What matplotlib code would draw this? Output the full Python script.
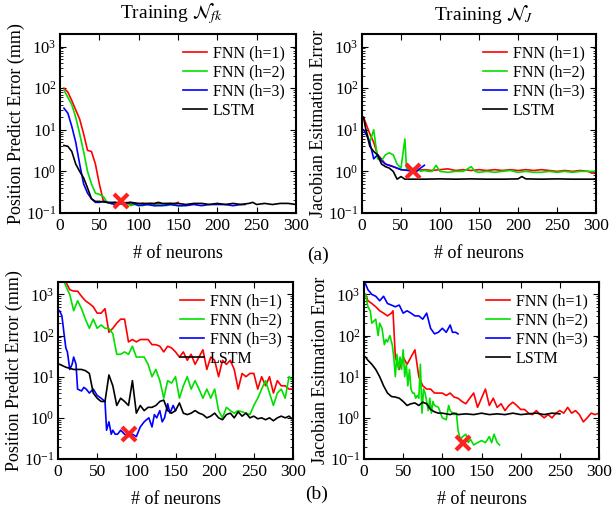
import matplotlib.pyplot as plt
import numpy as np

plt.rcParams['font.family'] = ['Liberation Serif', 'DejaVu Serif']
plt.rcParams['mathtext.fontset'] = 'stix'

labels = ['FNN (h=1)', 'FNN (h=2)', 'FNN (h=3)', 'LSTM']
colors = ['#ff0000', '#00e000', '#0000ff', '#000000']

# (a) left: position error, training N_fk
a1_x1 = [5, 10, 15, 20, 25, 30, 35, 40, 45, 50, 55, 60, 65, 70, 75, 80, 85, 90, 95, 100,
         105, 110, 115, 120, 125, 130, 135, 140, 145, 150]
a1_y1 = [100, 80, 50, 30, 18, 8, 3.2, 3.0, 1.5, 0.5, 0.2, 0.18, 0.17, 0.18, 0.17, 0.17, 0.18, 0.16, 0.17, 0.16,
         0.17, 0.16, 0.17, 0.16, 0.17, 0.16, 0.16, 0.17, 0.16, 0.18]
a1_x2 = [5, 10, 15, 20, 25, 30, 35, 40, 45, 50, 55, 60, 65, 70, 75, 80, 85, 90, 95, 100,
         105, 110, 115, 120, 125, 130, 135, 140, 145, 150, 155]
a1_y2 = [90, 60, 40, 20, 8, 3, 1.0, 0.5, 0.3, 0.28, 0.25, 0.18, 0.17, 0.16, 0.17, 0.16, 0.17, 0.15, 0.16, 0.16,
         0.15, 0.16, 0.17, 0.15, 0.16, 0.16, 0.15, 0.16, 0.16, 0.15, 0.15]
a1_x3 = [5, 10, 15, 20, 25, 30, 35, 40, 45, 50, 55, 60, 70, 80, 90, 100, 110, 120, 130, 140,
         150, 160, 170, 180, 190, 200, 210, 220, 230, 235]
a1_y3 = [33, 25, 12, 5, 1.5, 0.5, 0.3, 0.22, 0.18, 0.18, 0.19, 0.18, 0.16, 0.17, 0.18, 0.15, 0.16, 0.15, 0.15, 0.16,
         0.15, 0.15, 0.16, 0.15, 0.16, 0.16, 0.16, 0.15, 0.16, 0.16]
a1_x4 = [5, 10, 15, 20, 25, 30, 35, 40, 45, 50, 60, 70, 80, 90, 100, 110, 120, 125, 130, 140,
         150, 160, 170, 180, 190, 200, 210, 220, 230, 240, 245, 250, 260, 270, 280, 290, 300]
a1_y4 = [4.2, 4.0, 3.0, 1.5, 1.0, 0.7, 0.4, 0.22, 0.19, 0.19, 0.18, 0.18, 0.17, 0.18, 0.17, 0.17, 0.17, 0.18, 0.17, 0.17,
         0.17, 0.16, 0.17, 0.17, 0.16, 0.17, 0.16, 0.17, 0.16, 0.17, 0.18, 0.16, 0.17, 0.16, 0.17, 0.17, 0.16]
a1_best = (78, 0.19)

# (a) right: jacobian error, training N_J
a2_x1 = [2, 10, 15, 20, 25, 30, 40, 50, 60, 70, 80, 90, 100, 110, 120, 130, 140, 150, 160, 170,
         180, 190, 200, 210, 220, 230, 240, 250, 260, 270, 280, 290, 295, 300]
a2_y1 = [20, 8, 5, 2.5, 2, 1.5, 1.3, 1.1, 1.05, 1.05, 1.1, 1.05, 1.1, 1.15, 1.05, 1.1, 1.05, 1.1, 1.05, 1.1,
         1.05, 1.1, 1.05, 1.1, 1.05, 1.1, 1.05, 1.0, 1.05, 1.0, 1.05, 1.0, 0.9, 1.0]
a2_x2 = [5, 10, 15, 20, 25, 30, 35, 40, 45, 50, 55, 57, 60, 65, 70, 75, 80, 85, 90, 95, 100,
         110, 120, 130, 140, 145, 150, 160, 170, 180, 190, 200, 210, 220, 230, 240, 250, 260, 270, 280, 290, 300]
a2_y2 = [10, 5, 10, 2, 1.8, 2.5, 2.8, 2.5, 1.5, 1.2, 6, 1.2, 1.1, 1.15, 1.3, 1.0, 1.05, 1.0, 1.0, 1.4, 1.0,
         0.95, 1.0, 1.0, 1.3, 1.0, 0.95, 1.0, 0.95, 1.0, 1.05, 0.95, 1.0, 0.95, 0.95, 1.0, 0.95, 1.0, 0.95, 1.0, 1.0, 1.0]
a2_x3 = [2, 5, 10, 15, 20, 25, 30, 40, 50, 60, 70, 75, 80]
a2_y3 = [10, 8, 5, 2, 2.5, 1.8, 1.5, 1.3, 1.1, 1.05, 1.0, 1.2, 1.4]
a2_x4 = [2, 5, 10, 15, 20, 25, 30, 35, 40, 45, 50, 55, 60, 80, 100, 120, 140, 160, 180, 200,
         205, 210, 230, 250, 270, 300]
a2_y4 = [20, 10, 4, 3, 2.5, 1.5, 1.3, 1.2, 1.0, 0.65, 0.75, 0.65, 0.65, 0.65, 0.66, 0.65, 0.66, 0.65, 0.65, 0.66,
         0.75, 0.66, 0.65, 0.66, 0.65, 0.65]
a2_best = (65, 1.05)

# (b) left: position error
b1_x1 = list(range(10, 301, 5))
b1_y1 = [2000, 1300, 1200, 1200, 900, 700, 600, 500, 350, 350, 450, 120, 150, 200, 250, 250, 70, 80, 70, 80,
         80, 80, 60, 60, 55, 40, 55, 50, 40, 30, 40, 25, 35, 20, 30, 45, 15, 30, 25, 10,
         25, 20, 25, 15, 5, 12, 10, 12, 12, 5, 10, 6, 10, 4, 8, 6, 6, 5, 5]
b1_x2 = [8, 12] + list(range(15, 301, 5))
b1_y2 = [2000, 1300, 1000, 400, 700, 450, 250, 150, 250, 150, 180, 150, 150, 110, 35, 35, 40, 35, 55, 30,
         30, 30, 20, 10, 15, 8, 3, 8, 7, 10, 3, 6, 10, 5, 8, 5, 3, 5, 3, 5,
         1.5, 1.0, 1.8, 1.5, 1.3, 1.5, 1.4, 1.3, 1.2, 2, 3, 5, 8, 4, 2, 4, 5, 3, 10, 8]
b1_x3 = [2, 5, 8, 10, 12, 15, 18, 20, 23, 25, 30, 33, 36, 40, 45, 50, 55, 60, 62, 65,
         68, 70, 73, 76, 80, 85, 90, 95, 100, 105, 110, 113, 116, 120, 123, 126, 130, 133, 136, 140,
         143, 147, 150]
b1_y3 = [400, 300, 100, 50, 40, 15, 20, 30, 20, 5, 4.5, 5.5, 5, 4, 5, 3.5, 3, 2.5, 0.5, 0.8,
         0.4, 0.5, 0.4, 0.4, 0.5, 0.4, 0.35, 0.4, 0.35, 0.6, 0.8, 0.9, 1.0, 0.6, 1.2, 1.0, 1.5, 0.8, 1.0, 2.2,
         1.3, 2.0, 1.5]
b1_x4 = [2, 10, 20, 30, 35, 40, 45, 50, 55, 60, 65, 70, 75, 80, 85, 90, 95, 100, 105, 110,
         115, 120, 125, 130, 135, 140, 145, 150, 155, 160, 165, 170, 175, 180, 185, 190, 195, 200, 205, 210,
         215, 220, 225, 230, 235, 240, 245, 250, 255, 260, 265, 270, 275, 280, 285, 290, 295, 300]
b1_y4 = [20, 17, 15, 15, 14, 12, 4, 3, 2.5, 2.5, 11, 6, 2.0, 3, 2.5, 2.0, 8, 1.3, 2.0, 1.5,
         1.8, 1.8, 2.0, 2.5, 2.7, 1.5, 1.3, 1.5, 2.3, 1.3, 1.2, 1.3, 1.5, 1.3, 1.2, 1.0, 1.1, 1.3, 1.0, 0.9,
         1.2, 1.3, 1.0, 1.4, 1.1, 1.3, 1.0, 1.1, 0.95, 1.0, 0.9, 1.0, 0.85, 1.0, 1.1, 1.0, 1.1, 0.9]
b1_best = (90, 0.4)

# (b) right: jacobian error
b2_x1 = [2, 5, 10, 15, 20, 25, 30, 35, 37, 40, 45, 50, 55, 60, 65, 70, 75, 80, 85, 90,
         95, 100, 105, 110, 115, 120, 125, 130, 135, 140, 145, 150, 155, 160, 165, 170, 175, 180, 185, 190,
         195, 200, 205, 210, 215, 220, 225, 230, 235, 240, 245, 250, 255, 260, 265, 270, 275, 280, 285, 290,
         295, 300]
b2_y1 = [1000, 700, 600, 500, 400, 350, 300, 350, 400, 30, 15, 30, 20, 30, 45, 10, 6, 5, 5, 4,
         4, 4, 3.5, 4, 3.2, 3, 2.5, 2.2, 3, 4, 1.8, 3, 5, 2, 3, 1.8, 2.2, 1.5, 2, 2.4,
         2, 1.6, 1.6, 1.3, 1.2, 1.5, 1.2, 1.0, 1.2, 1.0, 1.3, 1.5, 1.3, 1.8, 1.3, 1.5, 1.2, 0.8, 1.0, 1.3,
         1.2, 1.3]
b2_x2 = [2, 5, 8, 10, 15, 18, 20, 23, 26, 28, 30, 33, 36, 38, 40, 42, 44, 46, 48, 50,
         52, 54, 56, 58, 60, 62, 64, 66, 68, 70, 72, 74, 76, 78, 80, 82, 84, 86, 88, 90,
         95, 100, 105, 108, 110, 115, 118, 120, 123, 126, 130, 133, 136, 140, 145, 150, 155, 160, 163, 166,
         170, 173]
b2_y2 = [1000, 500, 400, 200, 250, 100, 200, 150, 60, 80, 70, 100, 60, 30, 10, 35, 15, 30, 15, 45,
         10, 20, 6, 15, 5, 4, 4, 3, 3.5, 3, 20, 1.3, 5, 4, 2.5, 1.5, 3, 1.3, 2.5, 2,
         1.8, 1.0, 0.9, 2, 1.5, 1.2, 1.3, 0.5, 0.3, 0.35, 0.4, 0.25, 0.3, 0.22, 0.25, 0.28, 0.25, 0.35, 0.25, 0.4,
         0.25, 0.22]
b2_x3 = [2, 5, 10, 15, 20, 25, 30, 35, 40, 45, 50, 55, 60, 65, 70, 75, 80, 85, 90, 95,
         100, 105, 110, 113, 117, 120]
b2_y3 = [1800, 1300, 1000, 900, 700, 900, 600, 550, 500, 550, 350, 400, 350, 300, 300, 250, 350, 150, 110, 120,
         150, 120, 180, 120, 120, 110]
b2_x4 = [2, 5, 10, 15, 20, 25, 30, 35, 40, 45, 50, 55, 60, 65, 70, 75, 80, 85, 90, 95,
         100, 105, 110, 115, 120, 130, 140, 150, 160, 170, 180, 190, 200, 210, 220, 230, 240, 250]
b2_y4 = [30, 25, 20, 15, 10, 6, 4, 3.3, 3.2, 3.0, 2.5, 2.0, 2.2, 2.3, 2.0, 2.4, 2.2, 1.6, 1.4, 1.3,
         1.3, 1.25, 1.2, 1.3, 1.2, 1.25, 1.2, 1.3, 1.2, 1.25, 1.2, 1.3, 1.2, 1.25, 1.3, 1.2, 1.3, 1.25]
b2_best = (127, 0.25)

panels = [
    ([(a1_x1, a1_y1), (a1_x2, a1_y2), (a1_x3, a1_y3), (a1_x4, a1_y4)], a1_best,
     'Position Predict Error (mm)', [60, 34, 236, 179]),
    ([(a2_x1, a2_y1), (a2_x2, a2_y2), (a2_x3, a2_y3), (a2_x4, a2_y4)], a2_best,
     'Jacobian Esitmation Error', [362, 34, 234, 179]),
    ([(b1_x1, b1_y1), (b1_x2, b1_y2), (b1_x3, b1_y3), (b1_x4, b1_y4)], b1_best,
     'Position Predict Error (mm)', [58, 282, 235, 177]),
    ([(b2_x1, b2_y1), (b2_x2, b2_y2), (b2_x3, b2_y3), (b2_x4, b2_y4)], b2_best,
     'Jacobian Esitmation Error', [364, 282, 235, 177]),
]

W, H = 612, 513
fig = plt.figure(figsize=(W / 100, H / 100), dpi=100)
for series, best, ylab, (l, t, w, h) in panels:
    ax = fig.add_axes([l / W, 1 - (t + h) / H, w / W, h / H])
    for (x, y), c, lab in zip(series, colors, labels):
        ax.plot(x, y, color=c, lw=1.2, label=lab)
    ax.plot(*best, marker='x', color='#ff2020', ms=10, mew=3, ls='none')
    ax.set_yscale('log')
    ax.set_xlim(0, 300)
    ax.set_ylim(0.1, 2000)
    ax.set_xticks(range(0, 301, 50))
    ax.set_yticks([0.1, 1, 10, 100, 1000])
    ax.tick_params(which='both', direction='in', top=True, right=True, labelsize=12.5)
    ax.tick_params(axis='y', labelsize=12, pad=2.5)
    ax.tick_params(which='major', length=4)
    ax.tick_params(which='minor', length=2)
    for s in ax.spines.values():
        s.set_linewidth(1.5)
    ax.set_xlabel('# of neurons', fontsize=13, labelpad=8)
    ax.set_ylabel(ylab, fontsize=13, labelpad=1)
    ax.legend(loc='upper right', frameon=False, fontsize=11.5, handlelength=1.5,
              labelspacing=0.2, borderaxespad=0.3, handletextpad=0.4)

fig.text(172 / W, 1 - 14 / H, r'Training $\mathcal{N}_{fk}$', ha='center', va='center', fontsize=14)
fig.text(484 / W, 1 - 14 / H, r'Training $\mathcal{N}_{J}$', ha='center', va='center', fontsize=14)
fig.text(318 / W, 1 - 255 / H, '(a)', ha='center', va='center', fontsize=14)
fig.text(317 / W, 1 - 494 / H, '(b)', ha='center', va='center', fontsize=14)

fig.savefig('out.png', dpi=100)
